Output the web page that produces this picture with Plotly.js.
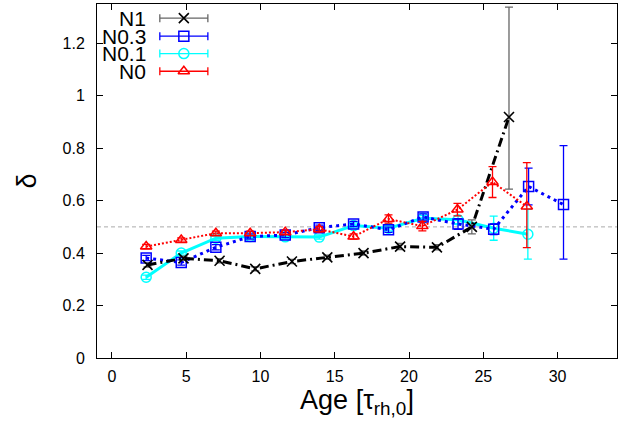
<!DOCTYPE html>
<html>
<head>
<meta charset="utf-8">
<script src="https://cdn.plot.ly/plotly-3.0.1.min.js"></script>
<style>html,body{margin:0;padding:0;background:#fff;}#chart{width:628px;height:421px;}</style>
</head>
<body>
<div id="chart"></div>
<script>
// ---- data ----
const seriesNames = ["N1", "N0.3", "N0.1", "N0"];

const n1Age   = [2.4, 4.82, 7.25, 9.65, 12.12, 14.5, 16.94, 19.4, 21.88, 24.23, 26.73];
const n1Delta = [0.355, 0.38, 0.371, 0.34, 0.368, 0.384, 0.40, 0.425, 0.422, 0.50, 0.919];
const n1ErrUp = [0.008, 0.008, 0.008, 0.008, 0.008, 0.008, 0.008, 0.012, 0.01, 0.027, 0.419];
const n1ErrDn = [0.008, 0.008, 0.008, 0.008, 0.008, 0.008, 0.008, 0.012, 0.01, 0.027, 0.275];

const n03Age   = [2.31, 4.67, 7.0, 9.31, 11.67, 13.96, 16.27, 18.62, 20.95, 23.3, 25.7, 28.05, 30.4];
const n03Delta = [0.381, 0.364, 0.422, 0.463, 0.469, 0.497, 0.511, 0.489, 0.538, 0.511, 0.491, 0.654, 0.585];
const n03ErrUp = [0.01, 0.01, 0.01, 0.01, 0.01, 0.01, 0.01, 0.01, 0.012, 0.02, 0.02, 0.07, 0.225];
const n03ErrDn = [0.01, 0.01, 0.01, 0.01, 0.01, 0.01, 0.01, 0.01, 0.012, 0.02, 0.02, 0.07, 0.208];

const n01Age   = [2.31, 4.67, 7.0, 9.31, 11.67, 13.96, 16.27, 18.62, 20.95, 23.3, 25.7, 28.0];
const n01Delta = [0.308, 0.40, 0.457, 0.463, 0.462, 0.461, 0.505, 0.495, 0.533, 0.527, 0.495, 0.472];
const n01ErrUp = [0.008, 0.008, 0.008, 0.008, 0.008, 0.008, 0.01, 0.01, 0.01, 0.015, 0.046, 0.095];
const n01ErrDn = [0.008, 0.008, 0.008, 0.008, 0.008, 0.008, 0.01, 0.01, 0.01, 0.015, 0.046, 0.095];

const n0Age   = [2.31, 4.67, 7.0, 9.31, 11.67, 13.96, 16.27, 18.62, 20.9, 23.26, 25.62, 27.93];
const n0Delta = [0.425, 0.45, 0.476, 0.476, 0.48, 0.491, 0.463, 0.53, 0.503, 0.566, 0.671, 0.578];
const n0ErrUp = [0.008, 0.008, 0.008, 0.008, 0.008, 0.01, 0.01, 0.016, 0.018, 0.024, 0.059, 0.167];
const n0ErrDn = [0.008, 0.008, 0.008, 0.008, 0.008, 0.01, 0.01, 0.016, 0.018, 0.024, 0.059, 0.157];

const referenceDelta = 0.5;
const xTicks = [0, 5, 10, 15, 20, 25, 30];
const yTicks = [0, 0.2, 0.4, 0.6, 0.8, 1, 1.2];

// ---- styles ----
const FONT = "Liberation Sans, Arial, sans-serif";
const styles = {
  "N1":   {color: "#000000", err: "#666666", dash: "9px,4px,2px,4px", width: 3, symbol: "x-thin-open", msize: 10, mline: 1.6},
  "N0.3": {color: "#0000ff", err: "#0000ff", dash: "3px,4px", width: 3, symbol: "square-open", msize: 10, mline: 1.5},
  "N0.1": {color: "#00ffff", err: "#00ffff", dash: "solid", width: 3, symbol: "circle-open", msize: 10, mline: 1.5},
  "N0":   {color: "#ff0000", err: "#ff0000", dash: "2px,2px", width: 2, symbol: "triangle-up-open", msize: 10, mline: 1.5}
};

function seriesTrace(name, x, y, up, dn) {
  const s = styles[name];
  return {
    type: "scatter", mode: "lines+markers", name: name, x: x, y: y,
    line: {color: s.color, width: s.width, dash: s.dash},
    marker: {symbol: s.symbol, size: s.msize, color: s.color, line: {color: s.color, width: s.mline}},
    error_y: {type: "data", symmetric: false, array: up, arrayminus: dn, color: s.err, thickness: 1.3, width: 4},
    showlegend: false, cliponaxis: true
  };
}

const traces = [
  seriesTrace("N0.1", n01Age, n01Delta, n01ErrUp, n01ErrDn),
  seriesTrace("N0.3", n03Age, n03Delta, n03ErrUp, n03ErrDn),
  seriesTrace("N1", n1Age, n1Delta, n1ErrUp, n1ErrDn),
  seriesTrace("N0", n0Age, n0Delta, n0ErrUp, n0ErrDn)
];

// ---- gnuplot-style key (layout geometry in overlay-axis fractions) ----
const KEY_SAMPLE_X = 0.167;
const KEY_HALF_LEN = 0.0462;
const KEY_TEXT_X = 0.099;
const KEY_ROW_Y = [0.960, 0.909, 0.860, 0.810];
const annotations = [];
seriesNames.forEach(function (name, i) {
  const s = styles[name];
  traces.push({
    type: "scatter", mode: "markers", x: [KEY_SAMPLE_X], y: [KEY_ROW_Y[i]],
    xaxis: "x2", yaxis: "y2", showlegend: false, hoverinfo: "skip",
    marker: {symbol: s.symbol, size: s.msize, color: s.color, line: {color: s.color, width: s.mline}},
    error_x: {type: "constant", value: KEY_HALF_LEN, color: s.err, thickness: 1.3, width: 4}
  });
  annotations.push({
    xref: "paper", yref: "paper", x: KEY_TEXT_X, y: KEY_ROW_Y[i],
    xanchor: "right", yanchor: "middle", showarrow: false, text: name,
    font: {family: FONT, size: 21, color: "#000"}
  });
});

const axisCommon = {
  showgrid: false, zeroline: false, showline: true, linecolor: "#000", linewidth: 1,
  mirror: "ticks", ticks: "inside", ticklen: 6, tickwidth: 1, tickcolor: "#000",
  tickfont: {family: FONT, size: 16, color: "#000"}
};

const layout = {
  width: 628, height: 421,
  margin: {l: 97, r: 11, t: 4, b: 63, pad: 0},
  paper_bgcolor: "#fff", plot_bgcolor: "#fff",
  showlegend: false,
  xaxis: Object.assign({}, axisCommon, {
    range: [-1, 34], tickmode: "array", tickvals: xTicks, ticktext: xTicks.map(String),
    ticklabelstandoff: 4,
    title: {text: "Age [τ<sub>rh,0</sub>]", font: {family: FONT, size: 27, color: "#000"}, standoff: 5}
  }),
  yaxis: Object.assign({}, axisCommon, {
    range: [0, 1.35], tickmode: "array", tickvals: yTicks, ticktext: yTicks.map(String),
    ticklabelstandoff: 8,
    title: {text: "δ", font: {family: FONT, size: 27, color: "#000"}, standoff: 18}
  }),
  xaxis2: {overlaying: "x", range: [0, 1], visible: false, anchor: "y2"},
  yaxis2: {overlaying: "y", range: [0, 1], visible: false, anchor: "x2"},
  shapes: [{
    type: "line", xref: "paper", x0: 0, x1: 1, yref: "y", y0: referenceDelta, y1: referenceDelta,
    line: {color: "#aaaaaa", width: 1, dash: "4px,3px"}, layer: "below"
  }],
  annotations: annotations
};

Plotly.newPlot("chart", traces, layout, {staticPlot: true, displayModeBar: false});
</script>
</body>
</html>
